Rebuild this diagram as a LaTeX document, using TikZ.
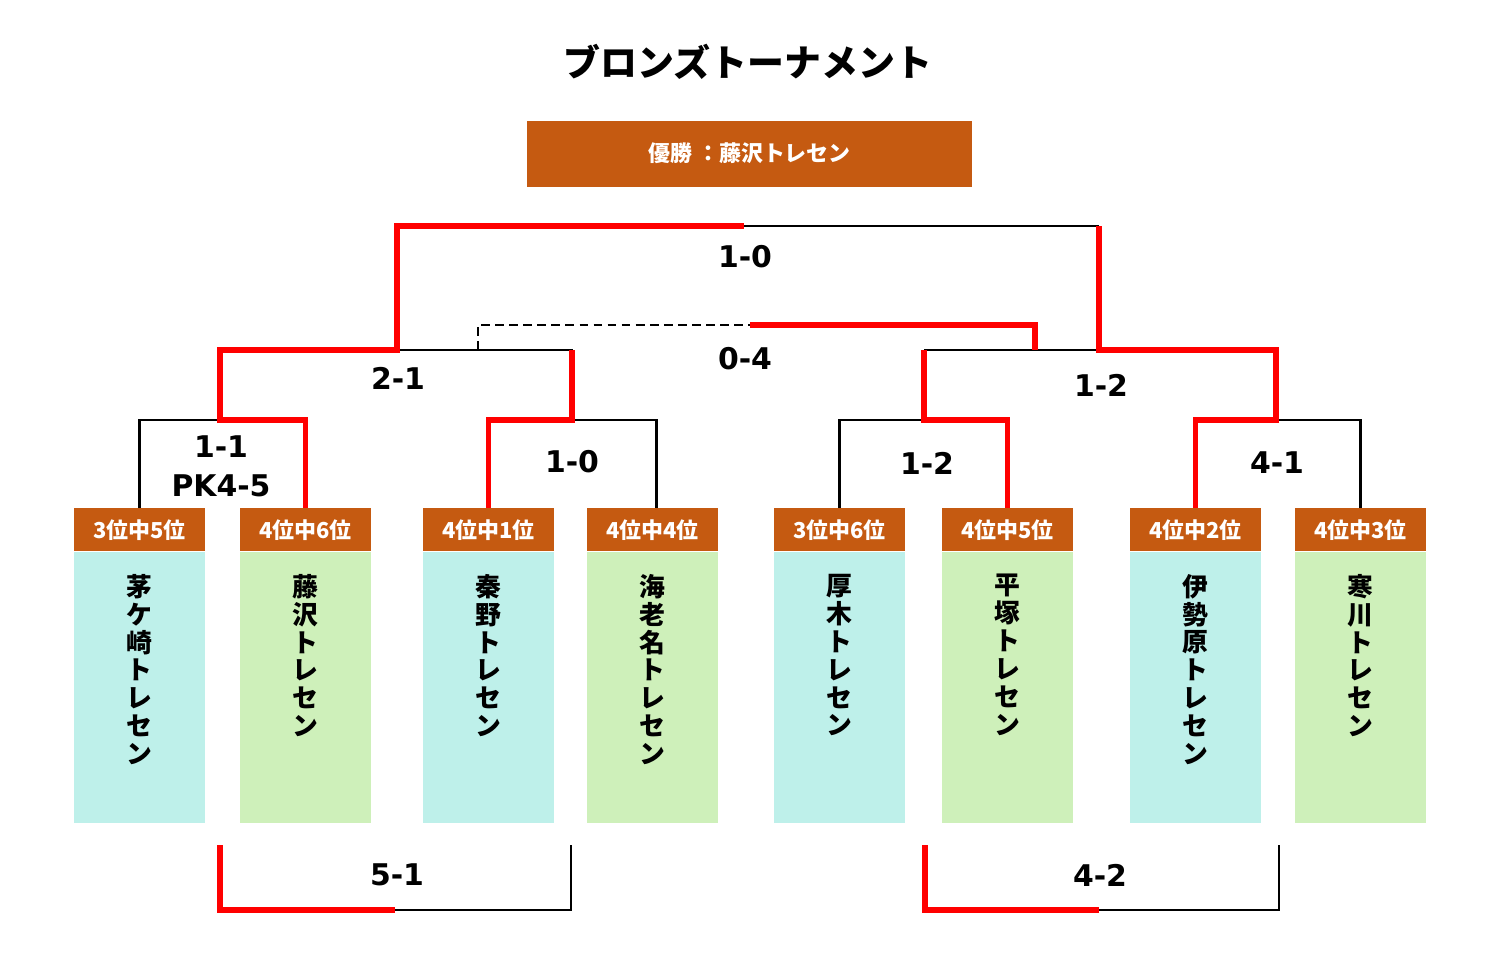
\documentclass[tikz,border=0pt]{standalone}
\usepackage{fontspec}
\usepackage{xcolor}
\usepackage{tikz}
\usetikzlibrary{calc,positioning}
\setmainfont{Noto Sans CJK JP}
\newfontfamily\scoreFont{DejaVu Sans}
\definecolor{rankColor}{RGB}{197, 90, 17}
\definecolor{cyanBody}{RGB}{190, 240, 234}
\definecolor{greenBody}{RGB}{206, 240, 186}
\definecolor{winColor}{RGB}{255, 0, 0}

\tikzset{
  rankBox/.style={fill=rankColor, text=white, minimum width=2.62cm, minimum height=0.86cm,
    inner sep=0pt, anchor=north, font=\fontsize{12.5}{14}\selectfont\bfseries},
  bodyBox/.style={minimum width=2.62cm, minimum height=5.42cm, inner sep=0pt},
  nameText/.style={align=center, inner sep=0pt, font=\fontsize{14.7}{15.9}\selectfont\bfseries},
  scoreText/.style={align=center, inner sep=0pt, font=\scoreFont\fontsize{17}{22}\selectfont\bfseries},
  winLine/.style={draw=winColor, line width=3pt},
  baseLine/.style={draw=black, line width=1.6pt},
}

\begin{document}
\begin{tikzpicture}[x=0.02cm, y=-0.02cm]
            \useasboundingbox (0,0) rectangle (1500,978);

            % Title and champion
            \node[font=\fontsize{21}{24}\selectfont\bfseries] (title) at (748,62) {ブロンズトーナメント};
            \node[fill=rankColor, text=white, minimum width=8.9cm, minimum height=1.32cm,
                font=\fontsize{12.5}{14}\selectfont\bfseries] (champ) at (749.5,154) {\raisebox{2pt}{優勝 ：藤沢トレセン}};

            % Teams
            \node[rankBox] (h1) at (139.5,508) {3位中5位};
            \node[bodyBox, fill=cyanBody, below=0pt of h1] (b1) {};
            \node[nameText, below=0.44cm of b1.north] (n1) {茅\\ケ\\崎\\ト\\レ\\セ\\ン};

            \node[rankBox] (h2) at (305.5,508) {4位中6位};
            \node[bodyBox, fill=greenBody, below=0pt of h2] (b2) {};
            \node[nameText, below=0.44cm of b2.north] (n2) {藤\\沢\\ト\\レ\\セ\\ン};

            \node[rankBox] (h3) at (488.5,508) {4位中1位};
            \node[bodyBox, fill=cyanBody, below=0pt of h3] (b3) {};
            \node[nameText, below=0.44cm of b3.north] (n3) {秦\\野\\ト\\レ\\セ\\ン};

            \node[rankBox] (h4) at (652.5,508) {4位中4位};
            \node[bodyBox, fill=greenBody, below=0pt of h4] (b4) {};
            \node[nameText, below=0.44cm of b4.north] (n4) {海\\老\\名\\ト\\レ\\セ\\ン};

            \node[rankBox] (h5) at (839.5,508) {3位中6位};
            \node[bodyBox, fill=cyanBody, below=0pt of h5] (b5) {};
            \node[nameText, below=0.44cm of b5.north] (n5) {厚\\木\\ト\\レ\\セ\\ン};

            \node[rankBox] (h6) at (1007.5,508) {4位中5位};
            \node[bodyBox, fill=greenBody, below=0pt of h6] (b6) {};
            \node[nameText, below=0.44cm of b6.north] (n6) {平\\塚\\ト\\レ\\セ\\ン};

            \node[rankBox] (h7) at (1195.5,508) {4位中2位};
            \node[bodyBox, fill=cyanBody, below=0pt of h7] (b7) {};
            \node[nameText, below=0.44cm of b7.north] (n7) {伊\\勢\\原\\ト\\レ\\セ\\ン};

            \node[rankBox] (h8) at (1360.5,508) {4位中3位};
            \node[bodyBox, fill=greenBody, below=0pt of h8] (b8) {};
            \node[nameText, below=0.44cm of b8.north] (n8) {寒\\川\\ト\\レ\\セ\\ン};

            % Bracket joints
            \coordinate (q1) at (220,420);
            \coordinate (q2) at (572,420);
            \coordinate (q3) at (924,420);
            \coordinate (q4) at (1276,420);
            \coordinate (s1) at (397,350);
            \coordinate (s2) at (1099,350);
            \coordinate (f) at (744,226);
            \coordinate (t1) at (478,350);
            \coordinate (t2) at (1035,350);
            \coordinate (tm) at (750,325);

            % Losing paths
            \draw[baseLine] (h1.north) |- (q1);
            \draw[baseLine] (s1) -| (q2);
            \draw[baseLine] (q2) -| ($(h4.north)+(4,0)$);
            \draw[baseLine] (h5.north) |- (q3);
            \draw[baseLine] (q3|-s2) -- (s2);
            \draw[baseLine] (q4) -| (h8.north);
            \draw[baseLine, line width=1.3pt] (s2|-f) -- (f);
            \draw[baseLine, dash pattern=on 5pt off 3pt] (t1) |- (tm);

            % Winning paths
            \draw[winLine] (h2.north) |- (q1) |- (s1) |- (f);
            \draw[winLine] (h3.north) |- (q2) -- (q2|-s1);
            \draw[winLine] (h6.north) |- (q3) -- (q3|-s2);
            \draw[winLine] (h7.north) |- (q4) |- (s2) -- (s2|-f);
            \draw[winLine] (tm) -| (t2);

            % Classification matches
            \coordinate (c1) at (220,845);
            \coordinate (c2) at (571,845);
            \coordinate (cm) at (395,910);
            \coordinate (d1) at (925,845);
            \coordinate (d2) at (1279,845);
            \coordinate (dm) at (1099,910);
            \draw[baseLine] (cm) -| (c2);
            \draw[winLine] (c1) |- (cm);
            \draw[baseLine] (dm) -| (d2);
            \draw[winLine] (d1) |- (dm);

            % Scores
            \node[scoreText] (sf) at (745,257) {1-0};
            \node[scoreText] (s3rd) at (745,359) {0-4};
            \node[scoreText] (ss1) at (398,378) {2-1};
            \node[scoreText] (ss2) at (1101,385) {1-2};
            \node[scoreText] (sq1) at (221,466) {1-1\\PK4-5};
            \node[scoreText] (sq2) at (572,462) {1-0};
            \node[scoreText] (sq3) at (927,463) {1-2};
            \node[scoreText] (sq4) at (1277,463) {4-1};
            \node[scoreText] (sc1) at (397,875) {5-1};
            \node[scoreText] (sc2) at (1100,875) {4-2};
        \end{tikzpicture}
\end{document}
